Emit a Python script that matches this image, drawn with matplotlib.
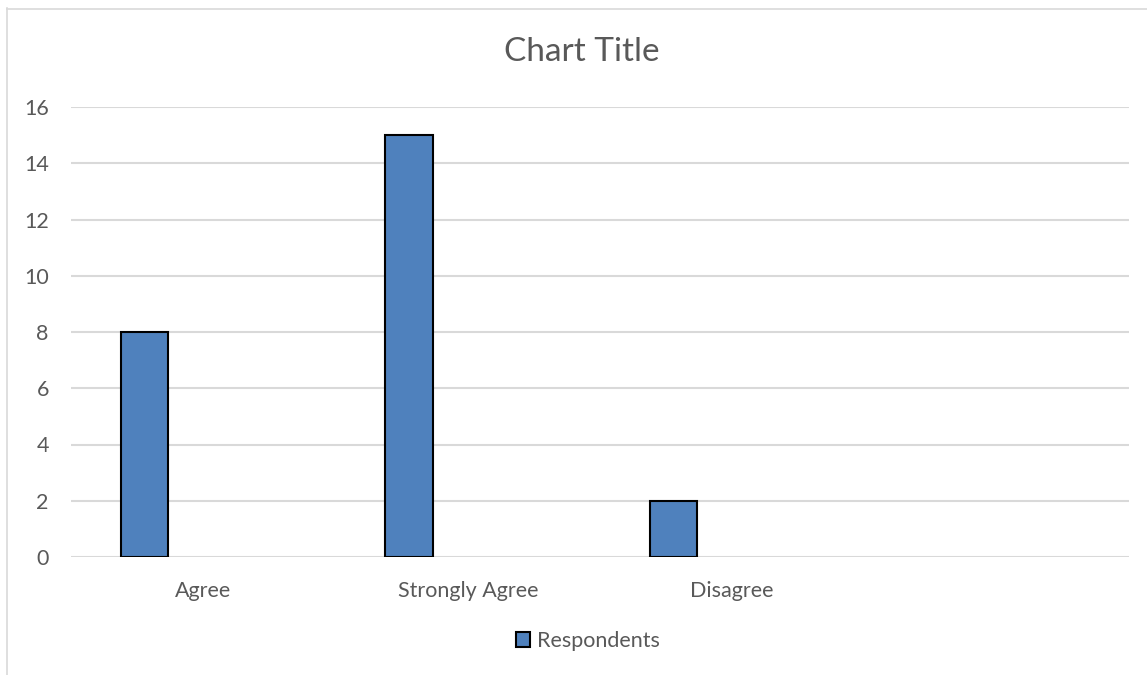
import matplotlib
matplotlib.use('Agg')
import matplotlib.pyplot as plt
from matplotlib.lines import Line2D
from matplotlib.patches import Patch
import numpy as np

plt.rcParams['font.family'] = ['Lato', 'DejaVu Sans']

categories = ['Agree', 'Strongly Agree', 'Disagree', '']
respondents = [8, 15, 2]
yticks = [0, 2, 4, 6, 8, 10, 12, 14, 16]

TEXT = '#595959'
GRID = '#d9d9d9'
BAR = '#4f81bd'

W, H = 1147, 675
fig = plt.figure(figsize=(W / 100, H / 100), dpi=100)
ax = fig.add_axes([71 / W, 1 - 557 / H, (1129 - 71) / W, (557 - 107) / H])

# bars sit at the left of each category slot
x = np.arange(len(respondents))
ax.bar(x + 0.189, respondents, width=0.178, align='edge', color=BAR,
       edgecolor='black', linewidth=1.5, zorder=3)

ax.set_xlim(0, len(categories))
ax.set_ylim(0, 16)
ax.set_yticks(yticks)
ax.set_yticklabels([str(v) for v in yticks], fontsize=15.5, color=TEXT)
ax.set_xticks(np.arange(len(categories)) + 0.5)
ax.set_xticklabels(categories, fontsize=15.5, color=TEXT)
ax.tick_params(axis='y', length=0, pad=16)
ax.tick_params(axis='x', length=0, pad=17)
ax.grid(axis='y', color=GRID, linewidth=1.5, zorder=0)
for s in ax.spines.values():
    s.set_visible(False)

fig.text(582 / W, 1 - 52 / H, 'Chart Title', fontsize=24, color=TEXT,
         ha='center', va='center')

# chart area frame (runs off the right and bottom edges)
fig.add_artist(Line2D([7.5 / W, 7.5 / W], [0, 1 - 8 / H], color=GRID,
                      linewidth=1.2, transform=fig.transFigure))
fig.add_artist(Line2D([7 / W, 1], [1 - 8.5 / H, 1 - 8.5 / H], color=GRID,
                      linewidth=1.2, transform=fig.transFigure))

handle = Patch(facecolor=BAR, edgecolor='black', linewidth=1.5)
fig.legend([handle], ['Respondents'], loc='center',
           bbox_to_anchor=(588 / W, 1 - 641 / H), frameon=False,
           fontsize=15.5, labelcolor=TEXT, handlelength=0.65, handleheight=0.65,
           handletextpad=0.3)

fig.savefig('out.png', dpi=100, facecolor='white')
